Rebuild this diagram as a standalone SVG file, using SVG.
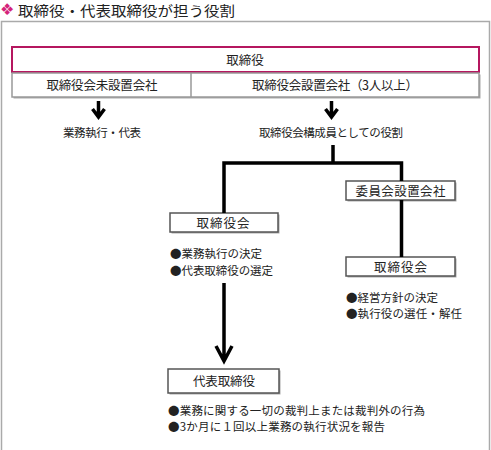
<svg xmlns="http://www.w3.org/2000/svg" width="491" height="450" viewBox="0 0 491 450">
<style>
text{font-family:"Noto Sans CJK JP","Noto Sans CJK SC",sans-serif;fill:#222}
.lbl{font-size:12.5px;text-anchor:middle}
.t{font-size:11.5px}
.box{fill:#fff;stroke:#555;stroke-width:1.5}
.sh{fill:#aaa}
.ln{fill:none;stroke:#000;stroke-width:3.5}
</style>
<rect width="491" height="450" fill="#fff"/>
<path d="M1.5,450 V21.5 H489.5 V450" fill="none" stroke="#aaa" stroke-width="1.5"/>
<g id="title">
<text x="0" y="15" style="font-size:16px;font-family:'DejaVu Sans',sans-serif;fill:#d4237a">❖</text>
<text x="18" y="16" style="font-size:14px" textLength="217" lengthAdjust="spacingAndGlyphs">取締役・代表取締役が担う役割</text>
</g>
<g id="n-top">
<rect x="12" y="47" width="467" height="25" fill="#fff" stroke="#b5175f" stroke-width="2"/>
<text class="lbl" x="245" y="64.5">取締役</text>
</g>
<g id="n-row">
<rect x="13.5" y="74.5" width="467" height="24" class="sh"/>
<rect x="12" y="73" width="467" height="24" fill="#fff" stroke="#999" stroke-width="1.5"/>
<line x1="191" y1="73" x2="191" y2="97" stroke="#999" stroke-width="1.5"/>
</g>
<g id="n-nonboard"><text class="lbl" x="102" y="89.5" textLength="111">取締役会未設置会社</text></g>
<g id="n-board"><text class="lbl" x="335" y="89.5" textLength="166">取締役会設置会社（3人以上）</text></g>
<g id="n-exec"><text class="t" x="63" y="137" textLength="78">業務執行・代表</text></g>
<g id="n-member"><text class="t" x="259" y="137" textLength="144">取締役会構成員としての役割</text></g>
<g id="n-bod1">
<rect x="171.5" y="214.5" width="108" height="19" class="sh"/>
<rect x="170" y="213" width="108" height="19" class="box"/>
<text class="lbl" x="223" y="227.5" textLength="53">取締役会</text>
<text class="t" x="170" y="258" textLength="92">●業務執行の決定</text>
<text class="t" x="170" y="275" textLength="103">●代表取締役の選定</text>
</g>
<g id="n-committee">
<rect x="347.5" y="182.5" width="109" height="19" class="sh"/>
<rect x="346" y="181" width="109" height="19" class="box"/>
<text class="lbl" x="400.5" y="195.5" textLength="90">委員会設置会社</text>
</g>
<g id="n-bod2">
<rect x="347.5" y="258.5" width="109" height="19" class="sh"/>
<rect x="346" y="257" width="109" height="19" class="box"/>
<text class="lbl" x="400.5" y="271.5" textLength="53">取締役会</text>
<text class="t" x="346" y="302" textLength="92">●経営方針の決定</text>
<text class="t" x="346" y="318" textLength="116">●執行役の選任・解任</text>
</g>
<g id="n-rep">
<rect x="169.5" y="370.5" width="111" height="24" class="sh"/>
<rect x="168" y="369" width="111" height="24" class="box"/>
<text class="lbl" x="224" y="385.5" textLength="62">代表取締役</text>
<text class="t" x="168" y="415" textLength="257">●業務に関する一切の裁判上または裁判外の行為</text>
<text class="t" x="168" y="431" textLength="217">●3か月に１回以上業務の執行状況を報告</text>
</g>
<g id="connectors">
<path class="ln" d="M98.5,101 V116 M92.5,109 L98.5,117 L104.5,109"/>
<path class="ln" d="M331.5,101 V116 M325.5,109 L331.5,117 L337.5,109"/>
<path class="ln" d="M333,145 V163 M224,213 V163 H401.5 V181 M401.5,200 V257"/>
<path class="ln" d="M224,283 V360 M216,346 L224,361 L232,346"/>
</g>
</svg>
